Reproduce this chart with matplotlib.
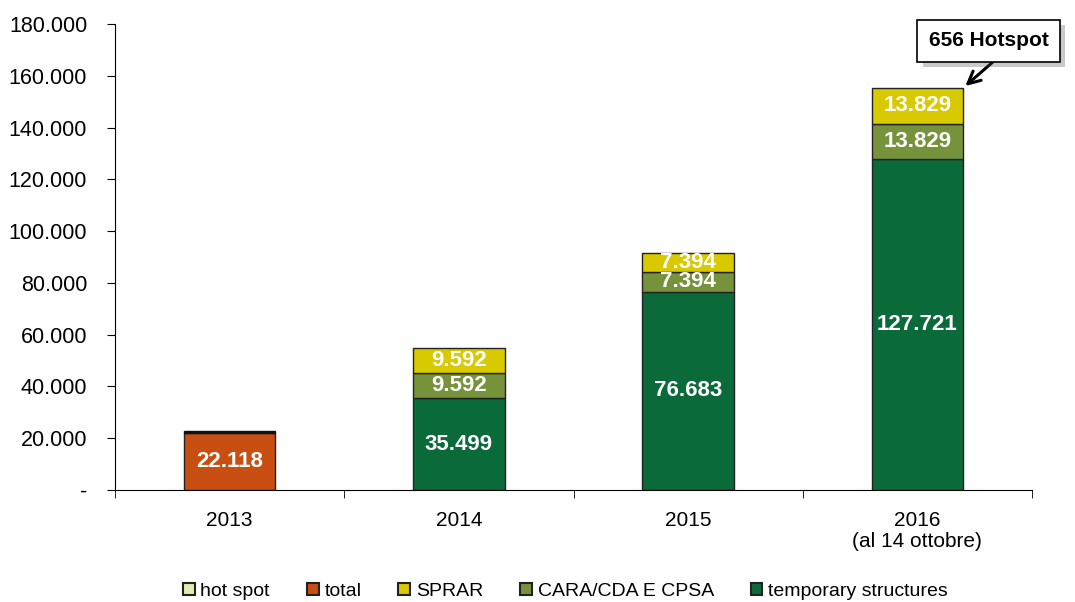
import matplotlib.pyplot as plt
import numpy as np
from matplotlib.ticker import FuncFormatter, FixedLocator
import matplotlib.patheffects as pe

# Data
years = ["2013", "2014", "2015", "2016\n(al 14 ottobre)"]
temporary = [0, 35499, 76683, 127721]
cara = [0, 9592, 7394, 13829]
sprar = [0, 9592, 7394, 13829]
total = [22118, 0, 0, 0]
hot_spot = [600, 0, 0, 0]

colors = {
    "hot spot": "#E4ECB0",
    "total": "#C94E12",
    "SPRAR": "#D8C900",
    "CARA/CDA E CPSA": "#76933C",
    "temporary structures": "#0A6A3A",
}

plt.rcParams["font.family"] = ["Liberation Sans", "DejaVu Sans"]

fig = plt.figure(figsize=(10.75, 6.02), dpi=100)
ax = fig.add_axes([0.107, 0.186, 0.853, 0.774])

x = np.arange(len(years))
w = 0.40
edge = dict(edgecolor="#222222", linewidth=1.0)

b_temp = ax.bar(x, temporary, w, color=colors["temporary structures"], **edge)
bottom = np.array(temporary, dtype=float)
b_cara = ax.bar(x, cara, w, bottom=bottom, color=colors["CARA/CDA E CPSA"], **edge)
bottom += cara
b_sprar = ax.bar(x, sprar, w, bottom=bottom, color=colors["SPRAR"], **edge)
bottom += sprar
b_total = ax.bar(x, total, w, bottom=bottom, color=colors["total"], **edge)
bottom += total
b_hot = ax.bar(x, hot_spot, w, bottom=bottom, color="#111111", edgecolor="#111111", linewidth=1.0)

# hide zero-height bars
for bars, vals in [(b_temp, temporary), (b_cara, cara), (b_sprar, sprar), (b_total, total), (b_hot, hot_spot)]:
    for r, v in zip(bars, vals):
        if v == 0:
            r.set_visible(False)

def fmt(v):
    return f"{v:,.0f}".replace(",", ".")

def label_bars(bars, vals, fs=16):
    for r, v in zip(bars, vals):
        if v == 0:
            continue
        ax.text(r.get_x() + r.get_width() / 2, r.get_y() + r.get_height() / 2, fmt(v),
                ha="center", va="center", color="white", fontsize=fs, fontweight="bold")

label_bars(b_temp, temporary)
label_bars(b_cara, cara)
label_bars(b_sprar, sprar)
label_bars(b_total, total)

ax.set_xlim(-0.5, 3.5)
ax.set_ylim(0, 180000)
ax.set_yticks(np.arange(0, 180001, 20000))
ax.yaxis.set_major_formatter(FuncFormatter(lambda v, p: "-" if v == 0 else fmt(v)))
ax.set_xticks(x)
ax.set_xticklabels(years, fontsize=15, linespacing=1.15)
ax.xaxis.set_minor_locator(FixedLocator(np.arange(-0.5, 3.6, 1)))
ax.tick_params(axis="x", which="major", length=0, pad=15)
ax.tick_params(axis="x", which="minor", length=6, direction="out")
ax.tick_params(axis="y", labelsize=15.5, length=6, direction="out", pad=14)
for s in ["top", "right"]:
    ax.spines[s].set_visible(False)

# Annotation
ann = ax.annotate("656 Hotspot", xy=(3 + w / 2, 155379), xycoords="data",
                  xytext=(3.31, 173600), textcoords="data",
                  ha="center", va="center", fontsize=15, fontweight="bold",
                  bbox=dict(boxstyle="square,pad=0.55", fc="white", ec="black", lw=1.2),
                  arrowprops=dict(arrowstyle="->", color="black", lw=2.2, mutation_scale=22,
                                  relpos=(0.65, 0.0), shrinkA=0, shrinkB=2),
                  annotation_clip=False)
ann.get_bbox_patch().set_path_effects([pe.withSimplePatchShadow(offset=(4, -4), alpha=0.3)])

# Legend
labels = ["hot spot", "total", "SPRAR", "CARA/CDA E CPSA", "temporary structures"]
handles = [plt.Rectangle((0, 0), 1, 1, fc=colors[k], ec="#222222", lw=1.5) for k in labels]
fig.legend(handles, labels, loc="lower center", bbox_to_anchor=(0.526, -0.026), ncol=5,
           frameon=False, fontsize=14, handlelength=0.6, handleheight=0.6,
           handletextpad=0.3, columnspacing=1.9)

fig.savefig("out.png", dpi=100)
